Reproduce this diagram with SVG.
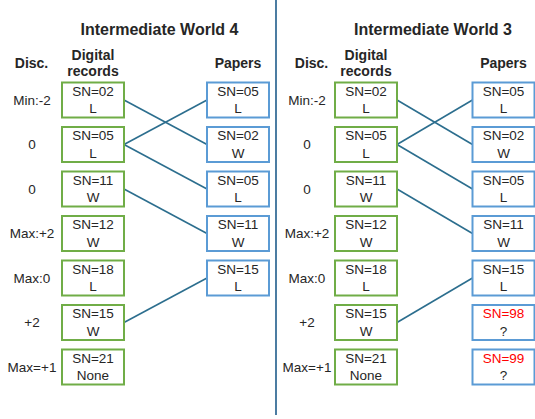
<svg xmlns="http://www.w3.org/2000/svg" width="535" height="419" viewBox="0 0 535 419">
<style>
text{font-family:"Liberation Sans",Arial,sans-serif;fill:#262626}
.t{font-size:16px;font-weight:bold;text-anchor:middle}
.h{font-size:14px;font-weight:bold;text-anchor:middle}
.d{font-size:13.5px;text-anchor:middle}
.b{font-size:13.5px;text-anchor:middle}
.r{fill:#FF0000}
.g rect{fill:#fff;stroke:#70AD47;stroke-width:2}
.p rect{fill:#fff;stroke:#5B9BD5;stroke-width:2}
#connectors line{stroke:#2C6E8E;stroke-width:1.6}
</style>
<rect width="535" height="419" fill="#fff"/>
<line x1="276" y1="0" x2="276" y2="415" stroke="#1F5C8B" stroke-width="1.6"/>
<!-- Headers -->
<text class="t" x="159.5" y="35">Intermediate World 4</text>
<text class="h" x="31.5" y="68">Disc.</text>
<text class="h" x="93" y="59.5">Digital</text>
<text class="h" x="93" y="76">records</text>
<text class="h" x="238" y="68">Papers</text>
<text class="t" x="433" y="35">Intermediate World 3</text>
<text class="h" x="311.5" y="68">Disc.</text>
<text class="h" x="366" y="59.5">Digital</text>
<text class="h" x="366" y="76">records</text>
<text class="h" x="503.5" y="68">Papers</text>
<!-- Disc labels left -->
<g class="d">
<text class="d" x="32" y="104.5">Min:-2</text>
<text class="d" x="32" y="149">0</text>
<text class="d" x="32" y="193.5">0</text>
<text class="d" x="32" y="238">Max:+2</text>
<text class="d" x="32" y="282.5">Max:0</text>
<text class="d" x="32" y="327">+2</text>
<text class="d" x="32" y="371.5">Max=+1</text>
<text class="d" x="307" y="104.5">Min:-2</text>
<text class="d" x="307" y="149">0</text>
<text class="d" x="307" y="193.5">0</text>
<text class="d" x="307" y="238">Max:+2</text>
<text class="d" x="307" y="282.5">Max:0</text>
<text class="d" x="307" y="327">+2</text>
<text class="d" x="307" y="371.5">Max=+1</text>
</g>
<!-- Connectors -->
<g id="connectors">
<line x1="124" y1="100" x2="207" y2="144.5"/>
<line x1="124" y1="144.5" x2="207" y2="100"/>
<line x1="124" y1="144.5" x2="207" y2="189"/>
<line x1="124" y1="189" x2="207" y2="233.5"/>
<line x1="124" y1="322.5" x2="207" y2="278"/>
<line x1="397" y1="100" x2="472.5" y2="144.5"/>
<line x1="397" y1="144.5" x2="472.5" y2="100"/>
<line x1="397" y1="144.5" x2="472.5" y2="189"/>
<line x1="397" y1="189" x2="472.5" y2="233.5"/>
<line x1="397" y1="322.5" x2="472.5" y2="278"/>
</g>
<!-- World 4 digital records -->
<g id="w4-d1" class="g"><rect x="62" y="82.5" width="62" height="35"/><text class="b" x="93" y="95.7">SN=02</text><text class="b" x="93" y="113">L</text></g>
<g id="w4-d2" class="g"><rect x="62" y="127" width="62" height="35"/><text class="b" x="93" y="140.2">SN=05</text><text class="b" x="93" y="157.5">L</text></g>
<g id="w4-d3" class="g"><rect x="62" y="171.5" width="62" height="35"/><text class="b" x="93" y="184.7">SN=11</text><text class="b" x="93" y="202">W</text></g>
<g id="w4-d4" class="g"><rect x="62" y="216" width="62" height="35"/><text class="b" x="93" y="229.2">SN=12</text><text class="b" x="93" y="246.5">W</text></g>
<g id="w4-d5" class="g"><rect x="62" y="260.5" width="62" height="35"/><text class="b" x="93" y="273.7">SN=18</text><text class="b" x="93" y="291">L</text></g>
<g id="w4-d6" class="g"><rect x="62" y="305" width="62" height="35"/><text class="b" x="93" y="318.2">SN=15</text><text class="b" x="93" y="335.5">W</text></g>
<g id="w4-d7" class="g"><rect x="62" y="349.5" width="62" height="35"/><text class="b" x="93" y="362.7">SN=21</text><text class="b" x="93" y="380">None</text></g>
<!-- World 4 papers -->
<g id="w4-p1" class="p"><rect x="207" y="82.5" width="62" height="35"/><text class="b" x="238" y="95.7">SN=05</text><text class="b" x="238" y="113">L</text></g>
<g id="w4-p2" class="p"><rect x="207" y="127" width="62" height="35"/><text class="b" x="238" y="140.2">SN=02</text><text class="b" x="238" y="157.5">W</text></g>
<g id="w4-p3" class="p"><rect x="207" y="171.5" width="62" height="35"/><text class="b" x="238" y="184.7">SN=05</text><text class="b" x="238" y="202">L</text></g>
<g id="w4-p4" class="p"><rect x="207" y="216" width="62" height="35"/><text class="b" x="238" y="229.2">SN=11</text><text class="b" x="238" y="246.5">W</text></g>
<g id="w4-p5" class="p"><rect x="207" y="260.5" width="62" height="35"/><text class="b" x="238" y="273.7">SN=15</text><text class="b" x="238" y="291">L</text></g>
<!-- World 3 digital records -->
<g id="w3-d1" class="g"><rect x="335" y="82.5" width="62" height="35"/><text class="b" x="366" y="95.7">SN=02</text><text class="b" x="366" y="113">L</text></g>
<g id="w3-d2" class="g"><rect x="335" y="127" width="62" height="35"/><text class="b" x="366" y="140.2">SN=05</text><text class="b" x="366" y="157.5">L</text></g>
<g id="w3-d3" class="g"><rect x="335" y="171.5" width="62" height="35"/><text class="b" x="366" y="184.7">SN=11</text><text class="b" x="366" y="202">W</text></g>
<g id="w3-d4" class="g"><rect x="335" y="216" width="62" height="35"/><text class="b" x="366" y="229.2">SN=12</text><text class="b" x="366" y="246.5">W</text></g>
<g id="w3-d5" class="g"><rect x="335" y="260.5" width="62" height="35"/><text class="b" x="366" y="273.7">SN=18</text><text class="b" x="366" y="291">L</text></g>
<g id="w3-d6" class="g"><rect x="335" y="305" width="62" height="35"/><text class="b" x="366" y="318.2">SN=15</text><text class="b" x="366" y="335.5">W</text></g>
<g id="w3-d7" class="g"><rect x="335" y="349.5" width="62" height="35"/><text class="b" x="366" y="362.7">SN=21</text><text class="b" x="366" y="380">None</text></g>
<!-- World 3 papers -->
<g id="w3-p1" class="p"><rect x="472.5" y="82.5" width="62" height="35"/><text class="b" x="503.5" y="95.7">SN=05</text><text class="b" x="503.5" y="113">L</text></g>
<g id="w3-p2" class="p"><rect x="472.5" y="127" width="62" height="35"/><text class="b" x="503.5" y="140.2">SN=02</text><text class="b" x="503.5" y="157.5">W</text></g>
<g id="w3-p3" class="p"><rect x="472.5" y="171.5" width="62" height="35"/><text class="b" x="503.5" y="184.7">SN=05</text><text class="b" x="503.5" y="202">L</text></g>
<g id="w3-p4" class="p"><rect x="472.5" y="216" width="62" height="35"/><text class="b" x="503.5" y="229.2">SN=11</text><text class="b" x="503.5" y="246.5">W</text></g>
<g id="w3-p5" class="p"><rect x="472.5" y="260.5" width="62" height="35"/><text class="b" x="503.5" y="273.7">SN=15</text><text class="b" x="503.5" y="291">L</text></g>
<g id="w3-p6" class="p"><rect x="472.5" y="305" width="62" height="35"/><text class="b r" x="503.5" y="318.2">SN=98</text><text class="b" x="503.5" y="335.5">?</text></g>
<g id="w3-p7" class="p"><rect x="472.5" y="349.5" width="62" height="35"/><text class="b r" x="503.5" y="362.7">SN=99</text><text class="b" x="503.5" y="380">?</text></g>
</svg>
